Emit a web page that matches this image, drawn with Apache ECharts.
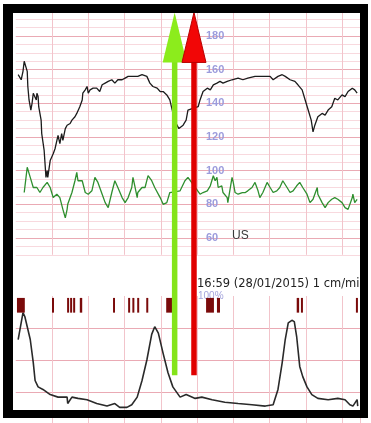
<!DOCTYPE html>
<html><head><meta charset="utf-8">
<script src="https://cdn.jsdelivr.net/npm/echarts@6/dist/echarts.min.js"></script>
<style>html,body{margin:0;padding:0;background:#fff}#c{width:371px;height:423px}</style>
</head><body><div id="c"></div><script>
// Cardiotocography strip: fetal heart rate (black), maternal pulse (green),
// uterine activity (bottom) and movement marks. Time in seconds.
const fhr = [
[4,157],[9,154],[12,159],[14,165],[17,166],[19,159],[20,150],[22,142],[25,136],[27,140],[29,146],[32,147],[34,142],[35,146],[37,144],[38,138],[42,130],[43,122],[47,112],[50,96],[52,100],[53,96],[57,106],[62,110],[65,113],[70,121],[73,116],[76,122],[78,118],[82,125],[85,127],[90,128],[93,130],[98,132],[101,134],[106,138],[110,142],[111,146],[115,148],[118,150],[120,146],[123,148],[128,149],[134,149],[139,147],[143,151],[148,152],[153,153],[159,154],[164,152],[169,154],[176,154],[181,155],[186,156],[192,156],[197,156],[202,156],[209,157],[212,158],[217,156],[222,152],[227,150],[234,149],[239,147],[244,147],[250,145],[255,142],[259,136],[264,129],[270,125],[277,127],[282,130],[285,136],[293,137],[302,138],[305,142],[310,147],[317,149],[322,148],[327,151],[333,152],[338,153],[341,154],[343,152],[350,153],[358,154],[368,155],[376,154],[384,155],[396,156],[408,156],[416,156],[421,156],[426,154],[434,156],[441,157],[446,156],[454,154],[462,153],[467,151],[474,148],[479,142],[484,136],[489,130],[492,123],[495,127],[500,132],[507,134],[512,133],[517,136],[523,138],[528,143],[533,142],[540,145],[545,144],[550,147],[557,149],[561,148],[565,146]
];
const maternal = [
[14,87],[17,96],[19,102],[20,102],[24,96],[29,90],[35,90],[40,87],[45,90],[52,93],[57,90],[62,84],[68,86],[73,84],[78,77],[82,72],[85,77],[86,80],[93,87],[98,94],[101,99],[103,94],[106,93],[110,94],[115,87],[120,86],[126,88],[131,96],[134,97],[136,93],[143,86],[148,81],[153,78],[159,87],[164,94],[169,90],[176,84],[181,81],[186,84],[192,90],[194,96],[197,91],[201,84],[202,87],[209,90],[214,90],[219,97],[225,94],[230,90],[239,84],[244,80],[250,81],[255,87],[272,88],[280,94],[285,96],[297,90],[305,86],[310,87],[317,88],[322,91],[327,97],[330,94],[333,96],[335,90],[338,90],[341,91],[343,87],[350,84],[351,81],[358,96],[360,93],[363,87],[368,86],[375,87],[380,87],[384,88],[391,90],[396,93],[401,88],[404,84],[409,87],[416,93],[421,90],[426,87],[432,88],[437,90],[442,94],[449,90],[454,87],[459,88],[465,91],[470,93],[475,90],[482,86],[487,81],[492,83],[499,90],[500,86],[507,81],[512,78],[517,81],[523,83],[528,84],[533,83],[540,81],[545,78],[550,77],[557,84],[558,86],[561,81],[565,83]
];
const toco = [
[4,66],[12,87],[15,84],[24,66],[29,48],[32,34],[37,29],[45,27],[57,23],[70,21],[85,21],[86,16],[93,21],[103,20],[118,19],[134,16],[151,14],[164,16],[172,13],[184,13],[192,15],[201,21],[209,34],[217,50],[225,70],[230,76],[236,71],[244,55],[252,40],[260,29],[272,21],[282,23],[297,20],[308,21],[325,19],[346,17],[368,16],[391,15],[413,14],[426,15],[434,27],[441,48],[446,66],[451,79],[457,81],[461,80],[465,68],[470,45],[475,37],[482,29],[490,23],[500,20],[517,19],[533,20],[545,19],[553,15],[558,14],[565,19],[566,14]
];
// movement marks: [start, end] in seconds
const marks = [[2,15],[60,63],[85,88],[90,93],[95,98],[106,110],[161,163],[186,189],[193,196],[201,204],[216,219],[249,259],[315,328],[333,338],[465,469],[472,475],[563,566]];
// event arrows at these times
const arrowTimes = [263, 295];
const arrowColors = ['#8cec1c', '#f20606'];
const fhrTicks = [60, 80, 100, 120, 140, 160, 180];
const tocoTicks = [100];
const channelLabel = 'US';
const stripLabel = '16:59 (28/01/2015) 1 cm/min';

const LIGHT = '#f8d9de', DARK = '#eaaab4', VLINE = '#f2c4cb';
const chart = echarts.init(document.getElementById('c'));

const xBase = {type:'value', min:0, max:570, interval:60,
  axisLine:{show:false}, axisTick:{show:false}, axisLabel:{show:false},
  splitLine:{show:true, showMinLine:false, lineStyle:{color:VLINE, width:1}}};

chart.setOption({
  animation:false,
  backgroundColor:'#fff',
  grid:[
    {left:15.75, top:10.75, width:344.4, height:244.05, outerBoundsMode:'none', containLabel:false},
    {left:15.75, top:296, width:344.4, height:128, outerBoundsMode:'none', containLabel:false}
  ],
  xAxis:[Object.assign({gridIndex:0}, xBase), Object.assign({gridIndex:1}, xBase)],
  yAxis:[
    {type:'value', gridIndex:0, min:50, max:195, interval:5, position:'left', offset:-188.25,
     axisLine:{show:false}, axisTick:{show:false},
     axisLabel:{inside:true, margin:2, color:'#9c9cdc', fontSize:11, fontWeight:'bold',
       fontFamily:'Liberation Sans', formatter:v => fhrTicks.includes(v) ? String(v) : ''},
     splitLine:{show:true, lineStyle:{color:[LIGHT, LIGHT, DARK, LIGHT], width:1}}},
    {type:'value', gridIndex:1, min:0, max:100, interval:25, position:'left', offset:-180.25,
     axisLine:{show:false}, axisTick:{show:false},
     axisLabel:{inside:true, margin:2, color:'#a4a4dc', fontSize:10,
       fontFamily:'Liberation Sans', formatter:v => tocoTicks.includes(v) ? v + '%' : ''},
     splitLine:{show:true, showMaxLine:false, lineStyle:{color:DARK, width:1}}}
  ],
  series:[
    {type:'line', xAxisIndex:0, yAxisIndex:0, data:maternal, showSymbol:false,
     lineStyle:{color:'#2f8f2f', width:1.3}, z:3},
    {type:'line', xAxisIndex:0, yAxisIndex:0, data:fhr, showSymbol:false,
     lineStyle:{color:'#1c1c1c', width:1.3}, z:4},
    {type:'line', xAxisIndex:1, yAxisIndex:1, data:toco, showSymbol:false,
     lineStyle:{color:'#2a2a2a', width:1.6}, z:3},
    {type:'custom', xAxisIndex:1, yAxisIndex:1, data:marks, z:5,
     renderItem:(params, api) => {
       const a = api.coord([api.value(0), 98.5]);
       const b = api.coord([api.value(1), 87]);
       return {type:'rect', shape:{x:a[0], y:a[1], width:Math.max(b[0]-a[0], 2), height:b[1]-a[1]},
               style:{fill:'#7a0a0a'}};
     }}
  ]
});

// arrows and frame, placed through the axes' scales
const graphics = [];
arrowTimes.forEach((t, i) => {
  const x = chart.convertToPixel({xAxisIndex:0}, t);
  const yTip = chart.convertToPixel({yAxisIndex:0}, 194);
  const yEnd = chart.convertToPixel({yAxisIndex:1}, 38);
  const head = 50, half = 12, shaft = 5.5;
  const red = i === 1;
  graphics.push({type:'rect', z:50 + i*2, silent:true,
    shape:{x:x - shaft/2, y:yTip + head - 4, width:shaft, height:yEnd - yTip - head + 4},
    style:{fill: red ? '#e00000' : '#84e41a'}});
  graphics.push({type:'polygon', z:51 + i*2, silent:true,
    shape:{points:[[x, yTip], [x - half, yTip + head], [x + half, yTip + head]]},
    style:{fill:arrowColors[i], stroke: red ? '#b80000' : null, lineWidth: red ? 1 : 0}});
});
graphics.push({type:'text', z:20, left:232, top:230,
  style:{text:channelLabel, fill:'#3a3a3a', font:'12px "Liberation Sans"'}});
graphics.push({type:'text', z:20, left:197, top:278,
  style:{text:stripLabel, fill:'#222', font:'11.5px "DejaVu Sans"'}});
// black frame
[[3,4,364,9],[3,4,10,414],[360,4,8,414],[3,410,365,8]].forEach(r => {
  graphics.push({type:'rect', z:100, silent:true, shape:{x:r[0], y:r[1], width:r[2], height:r[3]}, style:{fill:'#000'}});
});
chart.setOption({graphic:graphics});
</script></body></html>
